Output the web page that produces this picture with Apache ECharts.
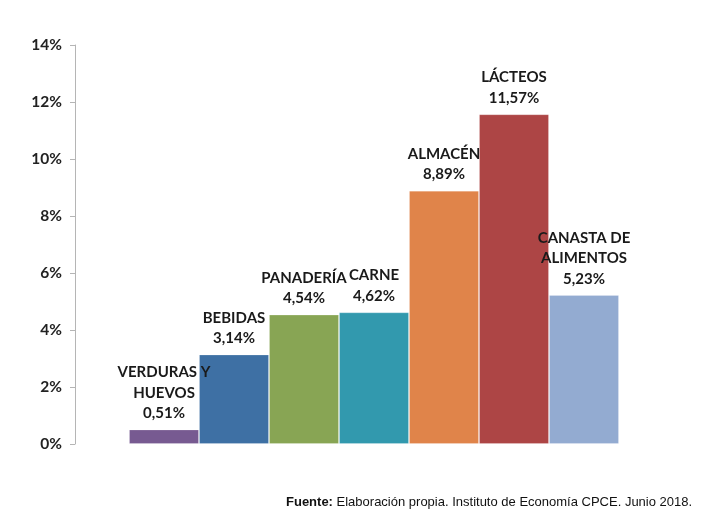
<!DOCTYPE html>
<html><head><meta charset="utf-8">
<script src="https://cdn.jsdelivr.net/npm/echarts@6/dist/echarts.min.js"></script>
<style>html,body{margin:0;padding:0;background:#fff}#c{width:709px;height:520px}</style>
</head><body><div id="c"></div>
<script>
const categories = ['VERDURAS Y\nHUEVOS', 'BEBIDAS', 'PANADERÍA', 'CARNE', 'ALMACÉN', 'LÁCTEOS', 'CANASTA DE\nALIMENTOS'];
const values = [0.51, 3.14, 4.54, 4.62, 8.89, 11.57, 5.23];
const colors = ['#775a91', '#3e70a4', '#88a554', '#3299ae', '#e0844a', '#ad4545', '#93abd1'];
const yTicks = [0, 2, 4, 6, 8, 10, 12, 14];

const chart = echarts.init(document.getElementById('c'), null, {renderer: 'canvas'});
const fontFam = 'Lato, "Open Sans", sans-serif';
chart.setOption({
  animation: false,
  grid: {left: 129, right: 90, top: 45, bottom: 76},
  xAxis: {
    type: 'category', data: categories,
    axisLine: {show: false}, axisTick: {show: false}, axisLabel: {show: false}
  },
  yAxis: {
    type: 'value', min: yTicks[0], max: yTicks[yTicks.length - 1], interval: 2,
    offset: 54,
    axisLine: {show: true, lineStyle: {color: '#b5b5b5', width: 1}},
    axisTick: {show: true, length: 5, lineStyle: {color: '#b5b5b5'}},
    splitLine: {show: false},
    axisLabel: {margin: 13, color: '#222', fontWeight: 'bold', fontSize: 15.5, fontFamily: fontFam,
      formatter: v => v + '%'}
  },
  series: [{
    type: 'bar',
    barCategoryGap: 0,
    data: values.map((v, i) => ({value: v, itemStyle: {color: colors[i], borderColor: 'rgba(255,255,255,0.2)', borderWidth: 1}})),
    label: {
      show: true, position: 'top', distance: 6,
      color: '#1a1a1a', fontWeight: 'bold', fontSize: 15, fontFamily: fontFam, lineHeight: 20.5,
      formatter: p => p.name + '\n' + p.value.toFixed(2).replace('.', ',') + '%'
    }
  }],
  graphic: [{
    type: 'text', left: 286, top: 496,
    style: {
      text: '{b|Fuente:} Elaboración propia. Instituto de Economía CPCE. Junio 2018.',
      font: '13px "Liberation Sans", Arial, sans-serif', fill: '#111',
      rich: {b: {fontWeight: 'bold', fontSize: 13, fontFamily: '"Liberation Sans", Arial, sans-serif', fill: '#111'}}
    }
  }]
});
</script></body></html>
